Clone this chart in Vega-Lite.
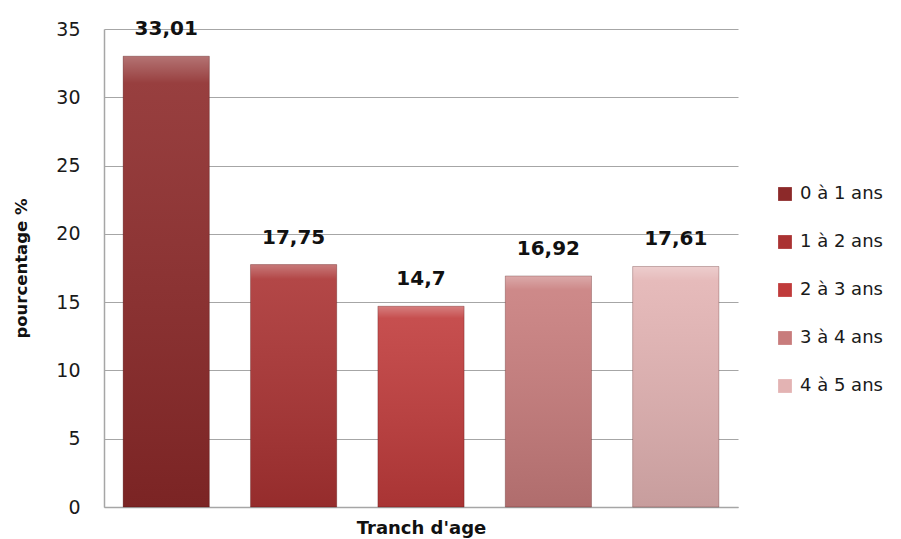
{
  "$schema": "https://vega.github.io/schema/vega-lite/v6.json",
  "width": 634,
  "height": 478,
  "autosize": {"type": "none"},
  "padding": {"left": 104, "top": 29, "right": 163, "bottom": 32},
  "background": "white",
  "config": {"font": "DejaVu Sans", "view": {"stroke": null}},
  "data": {
    "values": [
      {"tranche": "0 à 1 ans", "pourcentage": 33.01, "label": "33,01"},
      {"tranche": "1 à 2 ans", "pourcentage": 17.75, "label": "17,75"},
      {"tranche": "2  à 3 ans", "pourcentage": 14.7, "label": "14,7"},
      {"tranche": "3 à 4 ans", "pourcentage": 16.92, "label": "16,92"},
      {"tranche": "4 à 5 ans", "pourcentage": 17.61, "label": "17,61"}
    ]
  },
  "encoding": {
    "x": {
      "field": "tranche",
      "type": "nominal",
      "sort": null,
      "scale": {"paddingInner": 0.323, "paddingOuter": 0.15},
      "axis": {
        "title": "Tranch d'age",
        "labels": false,
        "ticks": false,
        "domainColor": "#a6a6a6",
        "domainWidth": 1.5,
        "titleFontSize": 18,
        "titleFontWeight": "bold",
        "titleColor": "#111111",
        "titleBaseline": "alphabetic",
        "titleY": 26
      }
    },
    "y": {
      "field": "pourcentage",
      "type": "quantitative",
      "scale": {"domain": [0, 35], "nice": false},
      "axis": {
        "title": "pourcentage %",
        "values": [0, 5, 10, 15, 20, 25, 30, 35],
        "tickSize": 0,
        "labelPadding": 24,
        "labelFontSize": 19,
        "labelColor": "#1a1a1a",
        "gridColor": "#a6a6a6",
        "gridWidth": 1.2,
        "domainColor": "#a6a6a6",
        "domainWidth": 1.5,
        "titleFontSize": 16.5,
        "titleFontWeight": "bold",
        "titleColor": "#111111",
        "titleAngle": 270,
        "titleBaseline": "alphabetic",
        "titleX": -78,
        "titleY": 239
      }
    }
  },
  "layer": [
    {
      "mark": {"type": "bar"},
      "encoding": {
        "color": {
          "field": "tranche",
          "type": "nominal",
          "sort": null,
          "scale": {
            "domain": ["0 à 1 ans", "1 à 2 ans", "2  à 3 ans", "3 à 4 ans", "4 à 5 ans"],
            "range": ["#8c2929", "#aa3232", "#c03b3b", "#c87c7c", "#e3b3b3"]
          },
          "legend": {
            "title": null,
            "orient": "none",
            "legendX": 672,
            "legendY": 156,
            "symbolType": "square",
            "symbolSize": 190,
            "symbolStrokeWidth": 0,
            "labelFontSize": 18,
            "labelColor": "#1a1a1a",
            "labelOffset": 6,
            "rowPadding": 30,
            "padding": 0
          }
        }
      }
    },
    {
      "mark": {
        "type": "bar",
        "stroke": "rgba(60,0,0,0.25)",
        "strokeWidth": 1,
        "color": {
          "gradient": "linear",
          "x1": 0, "y1": 0, "x2": 0, "y2": 1,
          "stops": [
            {"offset": 0, "color": "rgba(255,255,255,0.35)"},
            {"offset": 0.06, "color": "rgba(255,255,255,0.1)"},
            {"offset": 1, "color": "rgba(0,0,0,0.12)"}
          ]
        }
      }
    },
    {
      "mark": {"type": "text", "baseline": "alphabetic", "dy": -21, "fontSize": 20, "fontWeight": "bold", "color": "#111111"},
      "encoding": {"text": {"field": "label"}}
    }
  ]
}
